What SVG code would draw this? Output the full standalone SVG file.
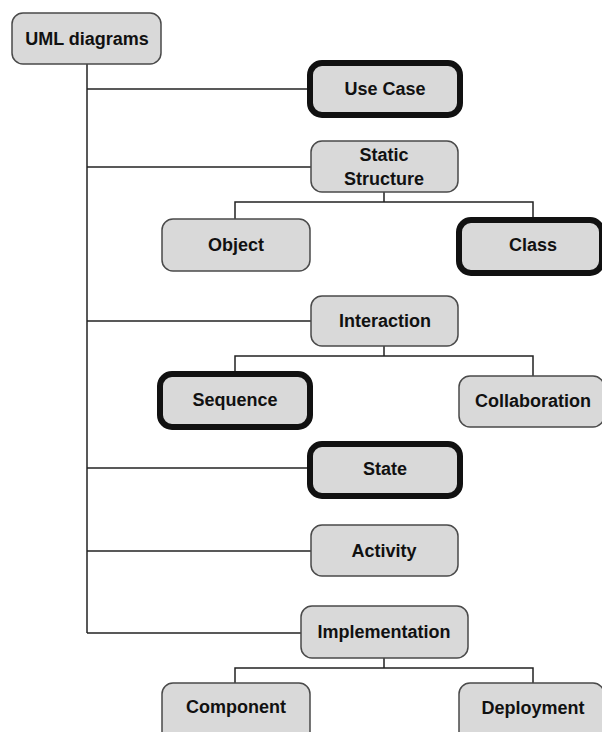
<svg xmlns="http://www.w3.org/2000/svg" width="602" height="732" viewBox="0 0 602 732">
<style>
.n{fill:#d9d9d9;stroke:#4a4a4a;stroke-width:1.5}
.k{fill:#d9d9d9;stroke:#111;stroke-width:6}
.t{font-family:"Liberation Sans",Arial,sans-serif;font-weight:bold;font-size:18px;fill:#111;text-anchor:middle;dominant-baseline:central}
.c{fill:none;stroke:#222;stroke-width:1.5}
</style>
<rect width="602" height="732" fill="#fff"/>
<g id="connectors">
<path class="c" d="M87,48 V633"/>
<path class="c" d="M87,89 H310"/>
<path class="c" d="M87,167 H311"/>
<path class="c" d="M87,321 H311"/>
<path class="c" d="M87,468 H310"/>
<path class="c" d="M87,551 H311"/>
<path class="c" d="M87,633 H301"/>
<path class="c" d="M384,192 V202 M235,219 V202 H533 V220"/>
<path class="c" d="M384,346 V356 M235,374 V356 H533 V376"/>
<path class="c" d="M384,658 V668 M235,684 V668 H533 V684"/>
</g>
<g id="uml"><rect class="n" x="12" y="13" width="149" height="51" rx="11"/><text class="t" x="87" y="39">UML diagrams</text></g>
<g id="usecase"><rect class="k" x="310" y="63" width="150" height="52" rx="12"/><text class="t" x="385" y="89">Use Case</text></g>
<g id="static"><rect class="n" x="311" y="141" width="147" height="51" rx="11"/><text class="t" x="384" y="155">Static</text><text class="t" x="384" y="179">Structure</text></g>
<g id="object"><rect class="n" x="162" y="219" width="148" height="52" rx="11"/><text class="t" x="236" y="245">Object</text></g>
<g id="class"><rect class="k" x="459" y="220" width="143" height="53" rx="12"/><text class="t" x="533" y="245">Class</text></g>
<g id="interaction"><rect class="n" x="311" y="296" width="147" height="50" rx="11"/><text class="t" x="385" y="321">Interaction</text></g>
<g id="sequence"><rect class="k" x="160" y="374" width="150" height="53" rx="12"/><text class="t" x="235" y="400">Sequence</text></g>
<g id="collaboration"><rect class="n" x="459" y="376" width="145" height="51" rx="11"/><text class="t" x="533" y="401">Collaboration</text></g>
<g id="state"><rect class="k" x="310" y="444" width="150" height="52" rx="12"/><text class="t" x="385" y="469">State</text></g>
<g id="activity"><rect class="n" x="311" y="525" width="147" height="51" rx="11"/><text class="t" x="384" y="551">Activity</text></g>
<g id="implementation"><rect class="n" x="301" y="606" width="167" height="52" rx="11"/><text class="t" x="384" y="632">Implementation</text></g>
<g id="component"><rect class="n" x="162" y="683" width="148" height="60" rx="11"/><text class="t" x="236" y="707">Component</text></g>
<g id="deployment"><rect class="n" x="459" y="683" width="145" height="60" rx="11"/><text class="t" x="533" y="708">Deployment</text></g>
</svg>
